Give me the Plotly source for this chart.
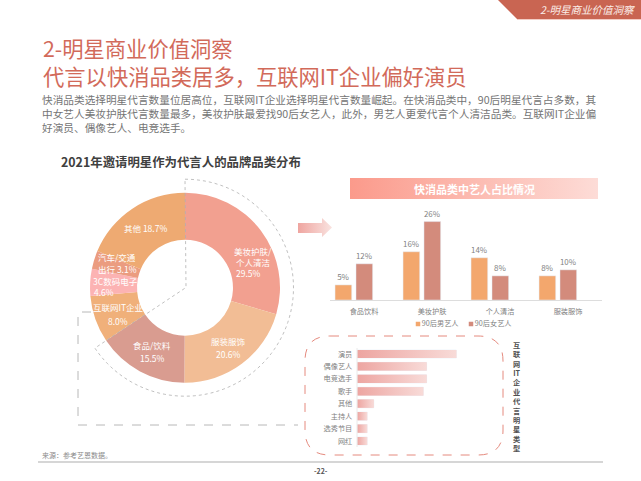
import numpy as np
import plotly.graph_objects as go

W, H = 641, 481
FONT = "Noto Sans CJK SC"

# ---- data ----
pie_names = ["美妆护肤/个人清洁", "服装服饰", "食品/饮料", "互联网IT企业", "3C数码电子", "汽车/交通出行", "其他"]
pie_values = [29.5, 20.6, 15.5, 8.0, 4.6, 3.1, 18.7]
pie_colors = ["#f2a090", "#f2bd95", "#d99c90", "#f0b07a", "#fcb3b3", "#eb9c80", "#eeaa72"]

fmcg_cats = ["食品饮料", "美妆护肤", "个人清洁", "服装服饰"]
male_90s = [5, 16, 14, 8]
female_90s = [12, 26, 8, 10]
series_names = ["90后男艺人", "90后女艺人"]
series_colors = ["#f3a76d", "#d38b7c"]

it_cats = ["演员", "偶像艺人", "电竞选手", "歌手", "其他", "主持人", "选秀节目", "网红"]
it_values = [30, 21, 21, 20, 5, 3, 3, 3]

# ---- helpers ----
px = lambda x: x / W
py = lambda y: 1 - y / H

fig = go.Figure()


def txt(s, x, y, size, color, anchor="center", bold=False, **kw):
    fig.add_annotation(
        text=f"<b>{s}</b>" if bold else s, x=x, y=y, xref="x3", yref="y3",
        showarrow=False, xanchor=anchor, yanchor="middle", borderpad=0,
        align="left" if anchor == "left" else "center",
        font=dict(family=FONT, size=size, color=color), **kw)


def grad_poly(xs, ys, c0, c1, xaxis="x3", yaxis="y3"):
    fig.add_trace(go.Scatter(
        x=xs, y=ys, xaxis=xaxis, yaxis=yaxis, mode="lines", line=dict(width=0),
        fill="toself", hoverinfo="skip", showlegend=False,
        fillgradient=dict(type="horizontal", colorscale=[[0, c0], [1, c1]])))


# ---- donut ----
fig.add_trace(go.Pie(
    labels=pie_names, values=pie_values, hole=0.505, sort=False, direction="clockwise",
    rotation=0, marker=dict(colors=pie_colors, line=dict(width=0)), textinfo="none",
    showlegend=False, domain=dict(x=[px(90), px(280)], y=[py(382.7), py(192.7)])))

# ---- grouped bars ----
for vals, name, col, off in zip([male_90s, female_90s], series_names, series_colors, [-0.426, -0.118]):
    fig.add_trace(go.Bar(
        x=fmcg_cats, y=vals, name=name, marker_color=col, width=0.245, offset=off,
        text=[f"{v}%" for v in vals], textposition="outside", cliponaxis=False, showlegend=False,
        textfont=dict(family=FONT, size=8, color="#7f7f7f")))

# hand-placed key, tight as in the reference
fig.add_trace(go.Scatter(
    x=[418, 471], y=[324, 324], xaxis="x3", yaxis="y3", mode="markers+text", text=series_names,
    textposition="middle right", showlegend=False, hoverinfo="skip",
    marker=dict(symbol="square", size=4.5, color=series_colors),
    textfont=dict(family=FONT, size=7.2, color="#7f7f7f")))

# ---- horizontal bars ----
rows = list(range(len(it_cats)))
fig.add_trace(go.Bar(
    x=it_values, y=rows, orientation="h", xaxis="x2", yaxis="y2", width=0.66,
    marker_color="#f3c4c0", showlegend=False))
for r, v in zip(rows, it_values):
    grad_poly([0, v, v, 0, 0], [r - .33, r - .33, r + .33, r + .33, r - .33],
              "#eda5a1", "#f8dbd8", "x2", "y2")

# ---- banner and arrow gradients ----
grad_poly([350, 598, 598, 350, 350], [178, 178, 199, 199, 178], "#fb9a8b", "#fddcd7")
grad_poly([298, 322, 322, 332, 322, 322, 298, 298], [223, 223, 218, 227.5, 237, 233, 233, 223],
          "#efa5a0", "#f9e3e0")

# ---- decorative shapes ----
theta = np.radians(np.linspace(0, sum(pie_values[:3]) / 100 * 360, 90))
arc_x, arc_y = 185 + 108.5 * np.sin(theta), 287.7 - 108.5 * np.cos(theta)
arc = "M " + " L ".join(f"{px(a):.5f},{py(b):.5f}" for a, b in zip(arc_x, arc_y))
arc += f" L {px(186):.5f},{py(287.5):.5f} Z"
shapes = [
    dict(type="path", path=f"M {px(498)},{py(0)} L {px(517)},{py(19)} L {px(641)},{py(19)} L {px(641)},{py(0)} Z",
         fillcolor="#c96552", line_width=0),
    dict(type="line", x0=px(517), x1=1, y0=py(19.5), y1=py(19.5), line=dict(color="#f3cdc5", width=1)),
    dict(type="path", path=arc, line=dict(color="#b0b0b0", width=0.8, dash="dot")),
    dict(type="path", path=f"M {px(91)},{py(312)} L {px(78)},{py(312)} L {px(78)},{py(425)} L {px(298)},{py(425)}",
         line=dict(color="#b8b8b8", width=1, dash="dash")),
    dict(type="path",
         path=(f"M {px(330)},{py(336)} L {px(478)},{py(336)} Q {px(503)},{py(336)} {px(503)},{py(361)} "
               f"L {px(503)},{py(430)} Q {px(503)},{py(455)} {px(478)},{py(455)} "
               f"L {px(330)},{py(455)} Q {px(305)},{py(455)} {px(305)},{py(430)} "
               f"L {px(305)},{py(361)} Q {px(305)},{py(336)} {px(330)},{py(336)} Z"),
         line=dict(color="#e58a7e", width=1, dash="dash")),
    dict(type="line", x0=px(38), x1=px(603), y0=py(462), y1=py(462), line=dict(color="#c8c8c8", width=1.5)),
    dict(type="line", x0=px(357), x1=px(357), y0=py(348), y1=py(447), line=dict(color="#e4e4e4", width=0.8)),
]
for s in shapes:
    s.update(xref="paper", yref="paper")

# ---- text ----
txt("<i>2-明星商业价值洞察</i>", 636, 9.5, 10.5, "#fbeee9", "right")
title_lines = ["2-明星商业价值洞察", "代言以快消品类居多，互联网IT企业偏好演员"]
txt("<br>".join(title_lines), 42, 61.5, 21.3, "#d26a5a", "left")
para = ["快消品类选择明星代言数量位居高位，互联网IT企业选择明星代言数量崛起。在快消品类中，90后明星代言占多数，其",
        "中女艺人美妆护肤代言数量最多，美妆护肤最爱找90后女艺人，此外，男艺人更爱代言个人清洁品类。互联网IT企业偏",
        "好演员、偶像艺人、电竞选手。"]
txt("<br>".join(para), 41, 113, 10.66, "#757575", "left")
txt("2021年邀请明星作为代言人的品牌品类分布", 181, 162, 12.4, "#404040", bold=True)
txt("快消品类中艺人占比情况", 474, 189, 11, "#ffffff", bold=True)
txt("来源：参考艺恩数据。", 41, 455, 7, "#8a8a8a", "left")
txt("-22-", 321, 471, 7, "#555555", bold=True)

W8 = "#ffffff"
for s, x, y in [("美妆护肤/", 253, 250.8), ("个人清洁", 253, 262), (f"{pie_values[0]}%", 248, 273.2),
                ("服装服饰", 228, 341), (f"{pie_values[1]}%", 228, 354),
                ("食品/饮料", 152, 345), (f"{pie_values[2]}%", 152, 358),
                ("互联网IT企业", 118, 307), (f"{pie_values[3]:.1f}%", 118, 321),
                ("3C数码电子", 115, 281), (f"{pie_values[4]}%", 104, 292.2),
                ("汽车/交通", 117, 257.4), (f"出行 {pie_values[5]}%", 117, 268.6),
                (f"其他 {pie_values[6]}%", 145, 228)]:
    txt(s, x, y, 8.5, W8)

# vertical heading: one upright row per glyph
txt("<br>".join(["互", "联", "网", "IT", "企", "业", "代", "言", "明", "星", "类", "型"]),
    517, 396.5, 7.2, "#505050", bold=True)

fig.update_layout(
    width=W, height=H, margin=dict(l=0, r=0, t=0, b=0), autosize=False, showlegend=False,
    paper_bgcolor="white", plot_bgcolor="rgba(0,0,0,0)", barmode="overlay", shapes=shapes,
    font=dict(family=FONT),
    xaxis=dict(domain=[px(330), px(602)], type="category", range=[-0.5, 3.5], showgrid=False, showline=True,
               linecolor="#dddddd", linewidth=1, ticks="", tickfont=dict(family=FONT, size=7.2, color="#7f7f7f"),
               anchor="y", ticklabelstandoff=4),
    yaxis=dict(domain=[py(300), py(205)], range=[0, 31.5], visible=False, anchor="x"),
    xaxis2=dict(domain=[px(357.3), px(490)], range=[0, 40.2], visible=False, anchor="y2"),
    yaxis2=dict(domain=[py(447.2), py(347.8)], range=[7.5, -0.5], tickmode="array", tickvals=rows, ticktext=it_cats,
                showgrid=False, zeroline=False, showline=False, ticks="",
                tickfont=dict(family=FONT, size=7.2, color="#7f7f7f"), anchor="x2", ticklabelstandoff=4),
    xaxis3=dict(domain=[0, 1], range=[0, W], visible=False, anchor="y3", fixedrange=True),
    yaxis3=dict(domain=[0, 1], range=[H, 0], visible=False, anchor="x3", fixedrange=True),
)

fig.write_html("out.html", post_script="document.body.style.margin='0';", config=dict(displayModeBar=False))
